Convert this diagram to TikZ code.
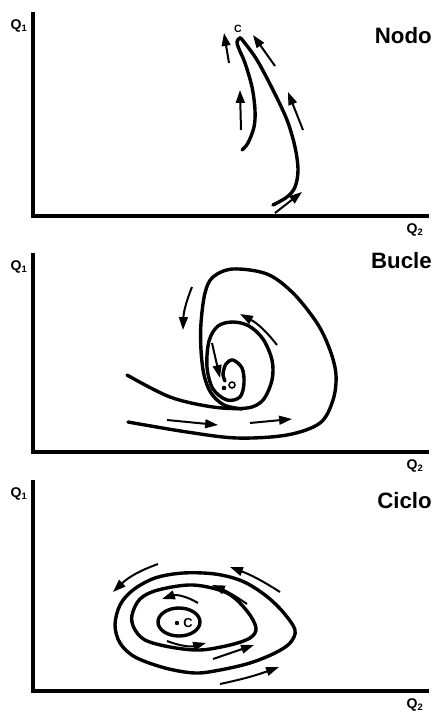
\documentclass[tikz,border=0pt]{standalone}
\usepackage{fontspec}
\setmainfont{Liberation Sans}
\usetikzlibrary{arrows.meta}
\tikzset{
  axis/.style={line width=3pt, line cap=rect},
  traj/.style={line width=2.9pt, line cap=round},
  flow/.style={-{Triangle[length=11pt,width=7.5pt]}, line width=1.7pt},
  qlbl/.style={font=\fontsize{12}{12}\selectfont\bfseries, inner sep=0pt},
  title/.style={font=\fontsize{19}{19}\selectfont\bfseries, inner sep=0pt, anchor=east},
  clbl/.style={font=\fontsize{11}{11}\selectfont\bfseries, inner sep=0pt},
}

\begin{document}
\begin{tikzpicture}[x=0.03cm, y=-0.03cm]
\useasboundingbox (0,0) rectangle (445,716);

% axes and labels of the three panels
\foreach \top/\base/\ttl/\ty/\id in {14/216/Nodo/36/a, 255/452/Bucle/261/b, 482/691/Ciclo/501/c}{
  \draw[axis] (33,\top) -- (33,\base) -- (427,\base);
  \node[qlbl] (q1\id) at (19,\top+12) {Q\textsubscript{1}};
  \node[qlbl] (q2\id) at (415,\base+14) {Q\textsubscript{2}};
  \node[title] (t\id) at (432,\ty) {\ttl};
}

% Nodo
\draw[traj] plot[smooth, tension=0.55] coordinates {(242,150) (248,143) (254,127) (255,110) (252,87) (245,63) (239,49) (237,42) (240,38) (244,42) (257,60) (273,90) (287,120) (295,147) (298,170) (295,187) (287,197) (273,205)};
\node[clbl, font=\fontsize{9}{9}\selectfont\bfseries] (ca) at (238,29) {C};
\draw[flow] (229,63) -- (224,33);
\draw[flow] (275,66) -- (253,35);
\draw[flow] (241,130) -- (240,90);
\draw[flow] (303,130) -- (288,92);
\draw[flow] (275,213) -- (302,192);

% Bucle
\draw[traj] plot[smooth, tension=0.55] coordinates {(128,422) (187,432) (237,438) (287,435) (320,423) (333,400) (336,375) (330,350) (317,323) (293,293) (267,274) (233,269) (213,277) (205,293) (201,323) (201,350) (204,375) (211,393) (224,405) (242,409)};
\draw[traj] plot[smooth, tension=0.55] coordinates {(127,375) (170,397) (213,407) (247,408) (263,400) (272,380) (272,360) (263,339) (249,326) (233,322) (218,326) (209,341) (207,367) (213,389) (227,400) (240,397) (244,383) (242,368) (233,360) (226,364) (223,374) (225,381)};
\fill (224,388) circle (2.3);
\draw[line width=1.3pt] (232,385) circle (3);
\draw[flow] (192,287) to[bend right=10] (183,330);
\draw[flow] (277,345) to[bend right=12] (240,314);
\draw[flow] (212,343) -- (220,378);
\draw[flow] (167,420) -- (218,425);
\draw[flow] (250,423) -- (292,419);

% Ciclo
\draw[traj] plot[smooth cycle, tension=0.55] coordinates {(115,625) (120,605) (133,590) (155,578) (183,573) (215,574) (242,581) (265,595) (283,612) (295,630) (290,643) (275,653) (250,663) (220,670) (195,673) (165,668) (135,657) (120,643)};
\draw[traj] plot[smooth cycle, tension=0.55] coordinates {(132,615) (140,599) (158,590) (193,585) (227,593) (247,611) (256,628) (250,638) (230,645) (200,650) (170,647) (145,640) (134,628)};
\draw[traj] (179,622) ellipse [x radius=21, y radius=14];
\fill (177,623) circle (2.2);
\node[clbl] (cc) at (188,623) {C};
\draw[flow] (158,564) to[bend right=12] (113,592);
\draw[flow] (280,592) to[bend right=6] (230,567);
\draw[flow] (247,604) to[bend right=6] (212,585);
\draw[flow] (198,603) to[bend right=25] (162,599);
\draw[flow] (167,641) to[bend right=18] (206,643);
\draw[flow] (213,659) -- (254,645);
\draw[flow] (220,684) to[bend right=4] (279,667);
\end{tikzpicture}
\end{document}
